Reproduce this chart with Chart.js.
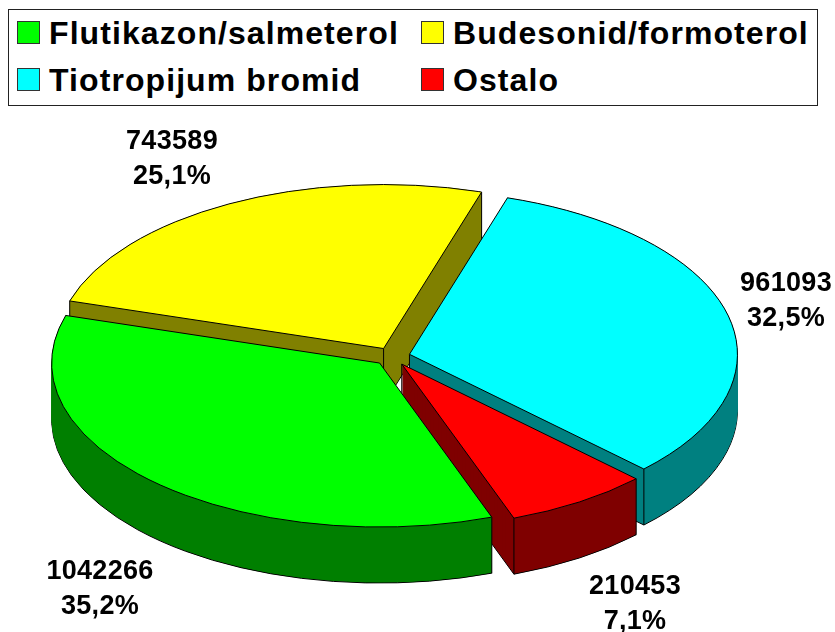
<!DOCTYPE html>
<html lang="hr">
<head>
<meta charset="utf-8">
<title>Flutikazon/salmeterol</title>
<script src="https://cdn.jsdelivr.net/npm/chart.js@4"></script>
<style>
  body { margin: 0; background: #fff; font-family: "Liberation Sans", Arial, sans-serif; }
  #wrap { position: relative; width: 835px; height: 632px; overflow: hidden; }
  canvas { display: block; }
  #legend {
    position: absolute; left: 8px; top: 9px; width: 808px; height: 95px;
    border: 1px solid #222; background: #fff;
  }
  .item { position: absolute; font: bold 32px "Liberation Sans", Arial, sans-serif; letter-spacing: 1.08px; line-height: 36px; color: #000; white-space: nowrap; }
  .swatch { position: absolute; left: -32px; top: 6px; width: 21px; height: 21px; border: 1px solid #333; }
</style>
</head>
<body>
<div id="wrap">
  <canvas id="chart" width="835" height="632"></canvas>
  <div id="legend"></div>
</div>
<script>
const categories = ["Flutikazon/salmeterol", "Budesonid/formoterol", "Tiotropijum bromid", "Ostalo"];
const values = [1042266, 743589, 961093, 210453];
const percentLabels = ["35,2%", "25,1%", "32,5%", "7,1%"];
const topColors = ["#00ff00", "#ffff00", "#00ffff", "#ff0000"];
const sideColors = ["#007f00", "#808000", "#008080", "#7f0000"];

// back to front, the red wall sits behind the green top
const drawOrder = [1, 2, 3, 0];
const labelCenters = [[100, 572], [172, 142], [786, 284], [635, 587]];
const legendSlots = [[40, 5], [444, 5], [40, 52], [444, 52]];

const TILT = 0.5;
const DEPTH = 56;
const EXPLODE = 18;
const LINE_GAP = 35;

function sliceCenter(arc) {
  const mid = (arc.startAngle + arc.endAngle) / 2;
  return [arc.x + Math.cos(mid) * EXPLODE, arc.y + Math.sin(mid) * EXPLODE * TILT];
}

function slicePath(ctx, arc, drop) {
  const [x, y] = sliceCenter(arc);
  ctx.beginPath();
  ctx.moveTo(x, y + drop);
  ctx.ellipse(x, y + drop, arc.outerRadius, arc.outerRadius * TILT, 0, arc.startAngle, arc.endAngle);
  ctx.closePath();
}

// outer wall as one path, the stacked slices alone leave seams on the curve
function wallPath(ctx, arc, drop) {
  const [x, y] = sliceCenter(arc);
  const radius = arc.outerRadius;
  ctx.beginPath();
  ctx.ellipse(x, y, radius, radius * TILT, 0, arc.startAngle, arc.endAngle);
  ctx.ellipse(x, y + drop, radius, radius * TILT, 0, arc.endAngle, arc.startAngle, true);
  ctx.closePath();
}

function drawEdges(ctx, arc) {
  const [x, y] = sliceCenter(arc);
  const radius = arc.outerRadius;
  const corners = [
    [x, y],
    [x + Math.cos(arc.startAngle) * radius, y + Math.sin(arc.startAngle) * radius * TILT],
    [x + Math.cos(arc.endAngle) * radius, y + Math.sin(arc.endAngle) * radius * TILT],
  ];
  ctx.beginPath();
  corners.forEach(([cx, cy]) => {
    ctx.moveTo(cx, cy);
    ctx.lineTo(cx, cy + DEPTH);
  });
  ctx.stroke();
}

const tiltedPie = {
  id: "tiltedPie",
  beforeDatasetsDraw(chart) {
    const ctx = chart.ctx;
    const arcs = chart.getDatasetMeta(0).data;
    ctx.save();
    ctx.lineWidth = 1;
    ctx.strokeStyle = "#000";
    drawOrder.forEach((index) => {
      const arc = arcs[index];
      ctx.fillStyle = sideColors[index];
      slicePath(ctx, arc, DEPTH);
      ctx.fill();
      ctx.stroke();
      for (let drop = DEPTH - 1; drop > 0; drop -= 1) {
        slicePath(ctx, arc, drop);
        ctx.fill();
      }
      wallPath(ctx, arc, DEPTH - 1);
      ctx.fill();
      drawEdges(ctx, arc);
      ctx.fillStyle = topColors[index];
      slicePath(ctx, arc, 0);
      ctx.fill();
      ctx.stroke();
    });
    ctx.restore();
    return false;
  },
  afterDraw(chart) {
    const ctx = chart.ctx;
    ctx.save();
    ctx.fillStyle = "#000";
    ctx.font = 'bold 27px "Liberation Sans", Arial, sans-serif';
    ctx.letterSpacing = "0.3px";
    ctx.textAlign = "center";
    ctx.textBaseline = "middle";
    values.forEach((value, index) => {
      const [x, y] = labelCenters[index];
      ctx.fillText(String(value), x, y);
      ctx.fillText(percentLabels[index], x, y + LINE_GAP);
    });
    ctx.restore();
  },
};

new Chart(document.querySelector("#chart"), {
  type: "pie",
  data: {
    labels: categories,
    datasets: [{ data: values, backgroundColor: topColors, borderWidth: 0 }],
  },
  options: {
    responsive: false,
    animation: false,
    rotation: 160,
    radius: 328,
    layout: { padding: { top: 81, right: 51 } },
    events: [],
    plugins: { legend: { display: false }, tooltip: { enabled: false } },
  },
  plugins: [tiltedPie],
});

const legend = document.querySelector("#legend");
categories.forEach((name, index) => {
  const item = document.createElement("div");
  item.className = "item";
  item.style.left = `${legendSlots[index][0]}px`;
  item.style.top = `${legendSlots[index][1]}px`;
  item.textContent = name;
  const swatch = document.createElement("span");
  swatch.className = "swatch";
  swatch.style.background = topColors[index];
  item.append(swatch);
  legend.append(item);
});
</script>
</body>
</html>
